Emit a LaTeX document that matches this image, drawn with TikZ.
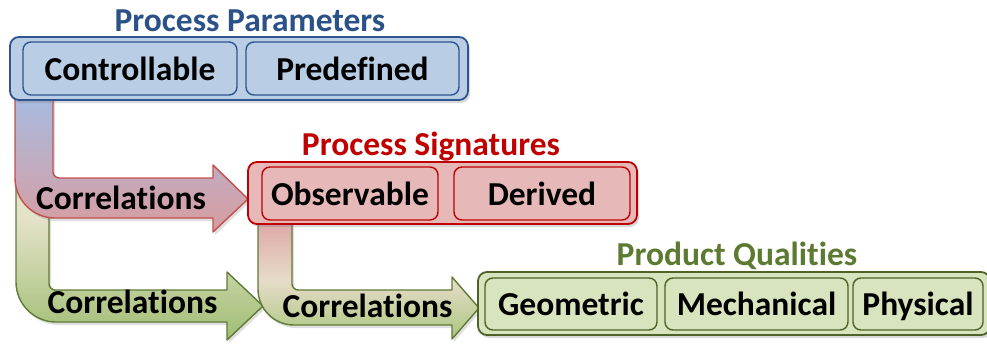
\documentclass[tikz,border=0pt]{standalone}
\usepackage{fontspec}
\setmainfont{Carlito}[RawFeature={-liga;-clig;-calt;-dlig;-rlig}]
\usetikzlibrary{shadows}

\definecolor{paramfill}{HTML}{B9CDE5}
\definecolor{paramline}{HTML}{2F5590}
\definecolor{paramtitle}{HTML}{2B5288}
\definecolor{sigfill}{HTML}{E6B9B8}
\definecolor{sigline}{HTML}{C00000}
\definecolor{qualfill}{HTML}{D7E4BD}
\definecolor{qualline}{HTML}{4F6228}
\definecolor{qualtitle}{HTML}{5C7A31}
\definecolor{bandred}{HTML}{C0504D}
\definecolor{bandgreen}{HTML}{5F7B35}

\tikzset{
    bigfont/.style={font=\fontsize{33.5}{40}\selectfont\bfseries},
    groupbox/.style={rounded corners=9pt, line width=1.8pt, inner sep=0pt,
        drop shadow={opacity=0.3, shadow xshift=2pt, shadow yshift=-3pt}},
    itembox/.style={rounded corners=8pt, line width=1.4pt, inner sep=0pt,
        bigfont, text height=24pt, text depth=1pt, minimum height=53pt},
    grouptitle/.style={bigfont, anchor=base},
    bandlabel/.style={bigfont, anchor=base},
    bandarrow/.style={line width=1.4pt, line join=round,
        drop shadow={opacity=0.25, shadow xshift=2pt, shadow yshift=-3pt}}
}

\begin{document}
\begin{tikzpicture}[
    % One unit is one pixel of the layout; y runs downwards.
    x={(1pt,0pt)},
    y={(0pt,-1pt)}
]
    \useasboundingbox (0,0) rectangle (987,343);

    % --- Bands: parameters to qualities (behind everything) ---
    \path[bandarrow, draw=bandgreen, top color={rgb,255:red,232;green,228;blue,206},
        bottom color={rgb,255:red,160;green,190;blue,116}, middle color={rgb,255:red,228;green,226;blue,200}]
        (16,98) -- (16,282) .. controls (16,304) and (34,322) .. (56,322)
        -- (227,322) -- (227,340) -- (263,306) -- (227,272) -- (227,290)
        -- (55,290) .. controls (52,290) and (49,287) .. (49,284) -- (49,98) -- cycle;

    % parameters to signatures
    \path[bandarrow, draw=bandred, top color={rgb,255:red,168;green,187;blue,223},
        bottom color={rgb,255:red,217;green,156;blue,160}]
        (15,98) -- (15,178) .. controls (15,200) and (33,218) .. (55,218)
        -- (213,218) -- (213,232) -- (248,199) -- (213,165) -- (213,178)
        -- (59,178) .. controls (56,178) and (53,175) .. (53,172) -- (53,98) -- cycle;

    % --- Process parameters ---
    \node[groupbox, fill=paramfill, draw=paramline, minimum width=458pt, minimum height=63pt] (params) at (239,68.5) {};
    \node[itembox, fill=paramfill, draw=paramline, minimum width=214pt] (ctrl) at (130,68.5) {Controllable};
    \node[itembox, fill=paramfill, draw=paramline, minimum width=213pt] (predef) at (352.5,68.5) {Predefined};
    \node[grouptitle, text=paramtitle] (paramstitle) at (250,31) {Process Parameters};

    % --- Band: signatures to qualities ---
    \path[bandarrow, draw=bandgreen, top color={rgb,255:red,222;green,168;blue,168},
        bottom color={rgb,255:red,170;green,198;blue,126}, middle color={rgb,255:red,230;green,220;blue,200}]
        (258,222) -- (258,289) .. controls (258,309) and (274,325) .. (294,325)
        -- (452,325) -- (452,339) -- (479,308) -- (452,277) -- (452,290)
        -- (298,290) .. controls (295,290) and (292,287) .. (292,284) -- (292,222) -- cycle;

    % --- Process signatures ---
    \node[groupbox, fill=sigfill, draw=sigline, minimum width=389pt, minimum height=62pt] (sigs) at (442.5,193) {};
    \node[itembox, fill=sigfill, draw=sigline, minimum width=176pt] (observ) at (350,193.5) {Observable};
    \node[itembox, fill=sigfill, draw=sigline, minimum width=176pt] (derived) at (542,193.5) {Derived};
    \node[grouptitle, text=sigline] (sigstitle) at (431,155) {Process Signatures};

    % --- Product qualities ---
    \node[groupbox, fill=qualfill, draw=qualline, minimum width=512pt, minimum height=63pt] (quals) at (734,303.5) {};
    \node[itembox, fill=qualfill, draw=qualline, minimum width=172pt, minimum height=52pt] (geom) at (571,304) {Geometric};
    \node[itembox, fill=qualfill, draw=qualline, minimum width=183pt, minimum height=52pt] (mech) at (756.5,304) {Mechanical};
    \node[itembox, fill=qualfill, draw=qualline, minimum width=130pt, minimum height=52pt] (phys) at (918,304) {Physical};
    \node[grouptitle, text=qualtitle] (qualstitle) at (737,265) {Product Qualities};

    % --- Band labels ---
    \node[bandlabel] (corrA) at (121,209) {Correlations};
    \node[bandlabel] (corrB) at (132.5,313) {Correlations};
    \node[bandlabel] (corrC) at (367.5,317) {Correlations};
\end{tikzpicture}
\end{document}
